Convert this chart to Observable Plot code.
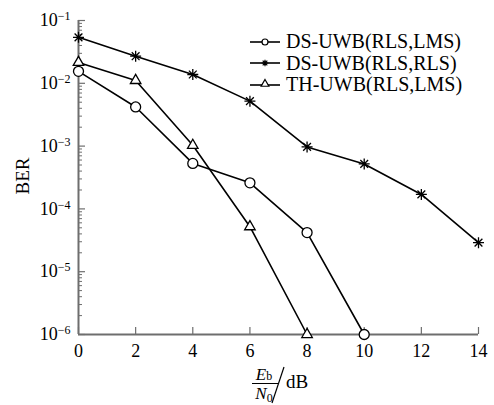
<!DOCTYPE html>
<html><head><meta charset="utf-8">
<script src="https://cdn.jsdelivr.net/npm/d3@7"></script>
<script src="https://cdn.jsdelivr.net/npm/@observablehq/plot@0.6"></script>
<style>
body{margin:0;background:#fff;}
#chart{position:relative;width:494px;height:405px;font-family:"Times New Roman","Liberation Serif","DejaVu Serif",serif;color:#000;}
#legend{position:absolute;left:249px;top:31px;font-size:20px;line-height:21.5px;}
#legend .row{display:flex;align-items:center;white-space:nowrap;}
#legend svg{margin-right:4px;}
</style></head><body><div id="chart"><div id="legend"></div></div>
<script>
// ---- data ----
const snr = [0, 2, 4, 6, 8, 10, 12, 14];
const dsRlsLms = [0.0155, 0.0042, 0.00053, 0.00026, 0.000042, 0.000001];
const dsRlsRls = [0.054, 0.027, 0.0138, 0.0052, 0.00097, 0.00052, 0.00017, 0.000029];
const thRlsLms = [0.0215, 0.0111, 0.00103, 0.000052, 0.000001];
const seriesNames = ["DS-UWB(RLS,LMS)", "DS-UWB(RLS,RLS)", "TH-UWB(RLS,LMS)"];
const xTicks = [0, 2, 4, 6, 8, 10, 12, 14];
const yExponents = [-6, -5, -4, -3, -2, -1];
const yLabel = "BER";

const FONT = '"Times New Roman","Liberation Serif","DejaVu Serif",serif';

// 8-arm star symbol
const star8 = {draw(ctx, size) {
  const r = Math.sqrt(size) * 0.62;
  const d = r * Math.SQRT1_2;
  ctx.moveTo(-r, 0); ctx.lineTo(r, 0);
  ctx.moveTo(0, -r); ctx.lineTo(0, r);
  ctx.moveTo(-d, -d); ctx.lineTo(d, d);
  ctx.moveTo(-d, d); ctx.lineTo(d, -d);
}};
const symbols = ["circle", star8, "triangle"];
const symbolR = [5, 5, 3.9];

const seriesValues = [dsRlsLms, dsRlsRls, thRlsLms];
const rows = [];
seriesValues.forEach((vals, s) => vals.forEach((v, i) => rows.push({series: seriesNames[s], snr: snr[i], ber: v})));

const majorTicks = yExponents.map(e => Math.pow(10, e));
const minorTicks = [];
yExponents.slice(0, -1).forEach(e => [2,3,4,5,6,7,8,9].forEach(m => minorTicks.push(m * Math.pow(10, e))));

const axisColor = "#6e6e6e";
const plot = Plot.plot({
  width: 494, height: 405,
  marginLeft: 78, marginRight: 16, marginTop: 20, marginBottom: 71,
  style: {fontFamily: FONT, fontSize: "18px", color: "#000", background: "transparent", overflow: "visible"},
  x: {domain: [0, 14]},
  y: {type: "log", domain: [1e-6, 1e-1]},
  marks: [
    Plot.ruleX([0], {stroke: axisColor, strokeWidth: 2}),
    Plot.ruleY([1e-6], {stroke: axisColor, strokeWidth: 2}),
    Plot.axisX({ticks: xTicks, tickSize: 7, dy: -7, tickFormat: () => "", label: null, stroke: axisColor, strokeWidth: 1.2}),
    Plot.axisX({ticks: xTicks, tickSize: 0, tickPadding: 10, tickFormat: d => String(d), label: null, fontSize: 18, fill: "#000"}),
    Plot.axisY({ticks: majorTicks, tickSize: 7, dx: 7, tickFormat: () => "", label: null, stroke: axisColor, strokeWidth: 1.2}),
    Plot.axisY({ticks: minorTicks, tickSize: 4, dx: 4, tickFormat: () => "", label: null, stroke: axisColor, strokeWidth: 1}),
    Plot.axisY({ticks: majorTicks, tickSize: 0, tickPadding: 8, tickFormat: d => String(Math.round(Math.log10(d))), label: null, fontSize: 18, fill: "#000"}),
    Plot.line(rows, {x: "snr", y: "ber", z: "series", stroke: "#000", strokeWidth: 1.6}),
    ...seriesNames.map((name, s) => Plot.dot(rows.filter(r => r.series === name), {
      x: "snr", y: "ber", symbol: () => symbols[s], r: symbolR[s],
      stroke: "#000", fill: s === 1 ? "none" : "#fff", strokeWidth: 1.3
    }))
  ]
});
document.getElementById("chart").prepend(plot);

const svg = d3.select(plot);
// remove empty tick-label texts, superscript the exponent labels
svg.selectAll('g[aria-label$="tick label"] text').each(function() {
  const t = d3.select(this);
  if (t.text() === "") t.remove();
});
svg.selectAll('g[aria-label="y-axis tick label"] text').each(function() {
  const t = d3.select(this);
  const exp = t.text().replace("-", "\u2212");
  t.text("10");
  t.append("tspan").attr("dy", "-0.5em").attr("font-size", 12).text(exp);
});

// axis titles
const g = svg.append("g").attr("fill", "#000").attr("font-family", FONT);
g.append("text").attr("transform", "translate(29,176) rotate(-90)").attr("text-anchor", "middle").attr("font-size", 19).text(yLabel);
const num = g.append("text").attr("x", 264).attr("y", 380).attr("text-anchor", "middle").attr("font-size", 17);
num.append("tspan").attr("font-style", "italic").text("E");
num.append("tspan").attr("font-size", 12).text("b");
g.append("line").attr("x1", 252).attr("x2", 278).attr("y1", 383.5).attr("y2", 383.5).attr("stroke", "#000").attr("stroke-width", 1);
const den = g.append("text").attr("x", 264).attr("y", 399).attr("text-anchor", "middle").attr("font-size", 17);
den.append("tspan").attr("font-style", "italic").text("N");
den.append("tspan").attr("font-size", 12).attr("dy", 3).text("0");
g.append("line").attr("x1", 284).attr("y1", 367).attr("x2", 272).attr("y2", 403).attr("stroke", "#000").attr("stroke-width", 1.2);
g.append("text").attr("x", 286).attr("y", 388).attr("text-anchor", "start").attr("font-size", 19).text("dB");

// legend
const legend = d3.select("#legend");
seriesNames.forEach((name, s) => {
  const row = legend.append("div").attr("class", "row");
  const sv = row.append("svg").attr("width", 33).attr("height", 14);
  sv.append("line").attr("x1", 1).attr("x2", 31).attr("y1", 7).attr("y2", 7).attr("stroke", "#000").attr("stroke-width", 1.6);
  const type = s === 0 ? d3.symbolCircle : s === 1 ? star8 : d3.symbolTriangle;
  const sym = d3.symbol(type, s === 2 ? 26 : 28);
  sv.append("path").attr("d", sym()).attr("transform", s === 2 ? "translate(16,6)" : "translate(16,7)")
    .attr("stroke", "#000").attr("stroke-width", 1.2).attr("fill", s === 1 ? "none" : "#fff");
  row.append("span").text(name);
});
</script>
</body></html>
